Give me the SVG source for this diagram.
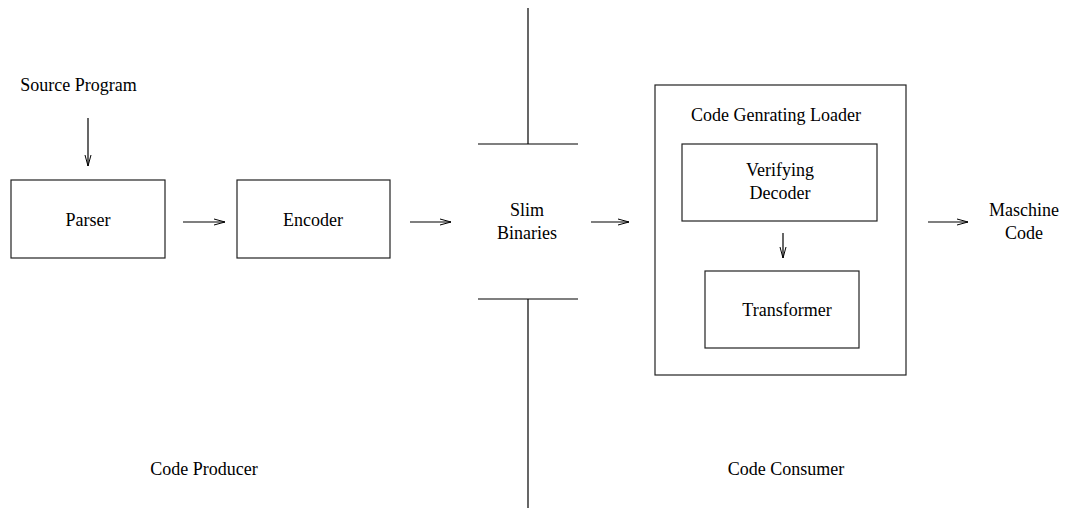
<svg xmlns="http://www.w3.org/2000/svg" width="1068" height="508" viewBox="0 0 1068 508">
<defs>
<marker id="ah" markerWidth="12" markerHeight="8" refX="11" refY="4" orient="auto" markerUnits="userSpaceOnUse">
<path d="M0,1 L11,4 L0,7" fill="none" stroke="#000" stroke-width="1"/>
</marker>
</defs>
<style>
.box{fill:none;stroke:#222;stroke-width:1.2}
.ln{fill:none;stroke:#000;stroke-width:1.2}
.arr{fill:none;stroke:#000;stroke-width:1.2;marker-end:url(#ah)}
text{font-family:"Liberation Serif","Times New Roman",serif;font-size:18px;fill:#000;text-anchor:middle}
</style>
<rect width="1068" height="508" fill="#fff"/>
<g id="source"><text x="78.5" y="91">Source Program</text></g>
<g id="parser"><rect class="box" x="11" y="180" width="154" height="78"/><text x="88" y="226">Parser</text></g>
<g id="encoder"><rect class="box" x="237" y="180" width="153" height="78"/><text x="313" y="226">Encoder</text></g>
<g id="slim"><text x="527" y="216">Slim</text><text x="527" y="239">Binaries</text></g>
<g id="loader"><rect class="box" x="655" y="85" width="251" height="290"/><text x="776" y="121">Code Genrating Loader</text></g>
<g id="decoder"><rect class="box" x="682" y="144" width="195" height="77"/><text x="780" y="176">Verifying</text><text x="780" y="199">Decoder</text></g>
<g id="transformer"><rect class="box" x="705" y="271" width="154" height="77"/><text x="787" y="316">Transformer</text></g>
<g id="maschine"><text x="1024" y="216">Maschine</text><text x="1024" y="239">Code</text></g>
<g id="producer"><text x="204" y="475">Code Producer</text></g>
<g id="consumer"><text x="786" y="475">Code Consumer</text></g>
<g id="connectors">
<line class="arr" x1="88" y1="118" x2="88" y2="166"/>
<line class="arr" x1="183" y1="222" x2="225" y2="222"/>
<line class="arr" x1="410" y1="222" x2="451" y2="222"/>
<line class="arr" x1="591" y1="222" x2="629" y2="222"/>
<line class="arr" x1="783" y1="233" x2="783" y2="258"/>
<line class="arr" x1="928" y1="222" x2="968" y2="222"/>
<line class="ln" x1="528" y1="8" x2="528" y2="144"/>
<line class="ln" x1="478" y1="144" x2="578" y2="144"/>
<line class="ln" x1="478" y1="299" x2="578" y2="299"/>
<line class="ln" x1="528" y1="299" x2="528" y2="508"/>
</g>
</svg>
